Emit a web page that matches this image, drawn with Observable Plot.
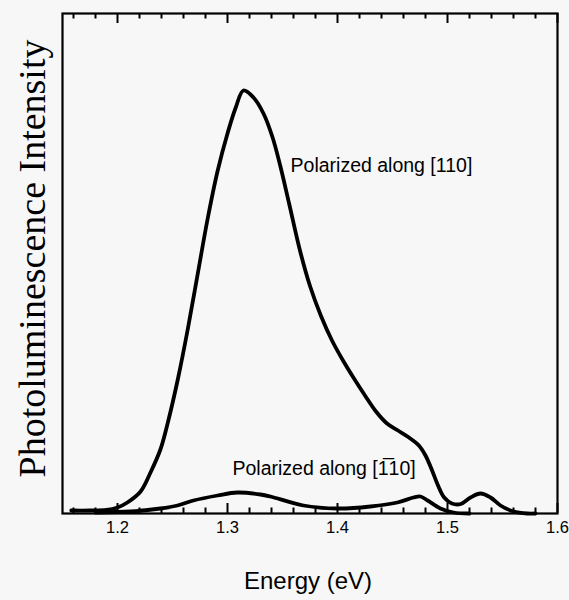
<!DOCTYPE html>
<html>
<head>
<meta charset="utf-8">
<script src="https://cdn.jsdelivr.net/npm/d3@7"></script>
<script src="https://cdn.jsdelivr.net/npm/@observablehq/plot@0.6"></script>
<style>
  body { margin: 0; background: #f7f7f7; }
  svg { background: #f7f7f7; display: block; }
</style>
</head>
<body>
<div id="chart"></div>
<script>
// Polarized along [110]
const energyPar = [1.158, 1.175, 1.19, 1.2, 1.209, 1.221, 1.23, 1.239, 1.246, 1.255, 1.264, 1.273, 1.282, 1.291, 1.300, 1.3075, 1.3145, 1.3236, 1.3327, 1.341, 1.348, 1.356, 1.366, 1.375, 1.385, 1.395, 1.405, 1.415, 1.425, 1.435, 1.445, 1.455, 1.465, 1.474, 1.480, 1.486, 1.491, 1.497, 1.504, 1.512, 1.5209, 1.53, 1.5391, 1.5482, 1.56, 1.5727, 1.58];
const intensityPar = [0.6, 0.6, 0.7, 1.2, 2.2, 4.4, 8.2, 12.8, 18.4, 27, 37, 48, 59, 68.5, 76, 81.2, 84.6, 83.2, 80, 75.2, 69.5, 62, 52.5, 45.5, 39.5, 34.6, 30.6, 27, 23.6, 20.4, 18, 16.6, 15.2, 13.6, 11.6, 8.6, 5.8, 3.2, 2, 1.9, 3.2, 4, 3.2, 1.6, 0.4, 0, 0];

// Polarized along [-110]
const energyPerp = [1.18, 1.212, 1.239, 1.2545, 1.269, 1.291, 1.309, 1.33, 1.339, 1.369, 1.40, 1.43, 1.4545, 1.469, 1.4755, 1.482, 1.4936, 1.5055, 1.52];
const intensityPerp = [0.2, 0.4, 1, 1.6, 2.6, 3.6, 4.2, 3.8, 3.4, 1.6, 1, 1.4, 2.2, 3.2, 3.4, 2.6, 1, 0.2, 0];

const majorTicks = [1.2, 1.3, 1.4, 1.5, 1.6];
const minorTicks = [1.16, 1.18, 1.22, 1.24, 1.26, 1.28, 1.32, 1.34, 1.36, 1.38, 1.42, 1.44, 1.46, 1.48, 1.52, 1.54, 1.56, 1.58];

const xLabel = "Energy (eV)";
const yLabel = "Photoluminescence Intensity";
const seriesLabels = ["Polarized along [110]", "Polarized along [1\u030510]"];
const labelEnergy = [1.3573, 1.3045];
const labelIntensity = [69.6, 9];

const W = 569, H = 600, mT = 13, mB = 87, mL = 62, mR = 12;
const innerH = H - mT - mB;
const yMin = 0, yMax = 100;
// tick lengths in pixels, converted to y units
const majorLen = 10 * (yMax - yMin) / innerH;
const minorLen = 5.5 * (yMax - yMin) / innerH;

const par = energyPar.map((e, i) => ({energy: e, intensity: intensityPar[i]}));
const perp = energyPerp.map((e, i) => ({energy: e, intensity: intensityPerp[i]}));
const labels = seriesLabels.map((t, i) => ({text: t, energy: labelEnergy[i], intensity: labelIntensity[i]}));
const majorRows = majorTicks.map(t => ({e: t}));
const minorRows = minorTicks.map(t => ({e: t}));

const sans = "Liberation Sans, Arial, Helvetica, sans-serif";
const serif = "Liberation Serif, Times New Roman, serif";

const chart = Plot.plot({
  width: W, height: H,
  marginTop: mT, marginBottom: mB, marginLeft: mL, marginRight: mR,
  x: {domain: [1.15, 1.6], label: null, axis: null},
  y: {domain: [yMin, yMax], label: null, axis: null},
  style: {background: "#f7f7f7", color: "black"},
  marks: [
    // inward ticks, bottom
    Plot.ruleX(majorRows, {x: "e", y1: () => yMin, y2: () => yMin + majorLen, stroke: "black", strokeWidth: 2}),
    Plot.ruleX(minorRows, {x: "e", y1: () => yMin, y2: () => yMin + minorLen, stroke: "black", strokeWidth: 2}),
    // inward ticks, top
    Plot.ruleX(majorRows, {x: "e", y1: () => yMax, y2: () => yMax - majorLen, stroke: "black", strokeWidth: 2}),
    Plot.ruleX(minorRows, {x: "e", y1: () => yMax, y2: () => yMax - minorLen, stroke: "black", strokeWidth: 2}),
    Plot.frame({stroke: "black", strokeWidth: 2.2}),
    Plot.line(par, {x: "energy", y: "intensity", stroke: "black", strokeWidth: 3.8, curve: "catmull-rom"}),
    Plot.line(perp, {x: "energy", y: "intensity", stroke: "black", strokeWidth: 3.8, curve: "catmull-rom"}),
    Plot.text(labels, {x: "energy", y: "intensity", text: "text", textAnchor: "start", fontSize: 19.5, fontFamily: sans, fill: "black"}),
    Plot.text(majorTicks, {x: d => d, frameAnchor: "bottom", dy: 19, text: d => d.toFixed(1), fontSize: 16.5, fontFamily: sans, fill: "black"}),
    Plot.text([xLabel], {frameAnchor: "bottom", dy: 75, dx: -2, text: d => d, fontSize: 24, fontFamily: sans, fill: "black"}),
    Plot.text([yLabel], {frameAnchor: "left", textAnchor: "middle", rotate: -90, dx: -30, dy: -5, text: d => d, fontSize: 38, fontFamily: serif, fill: "black"})
  ]
});
document.getElementById("chart").appendChild(chart);
</script>
</body>
</html>
